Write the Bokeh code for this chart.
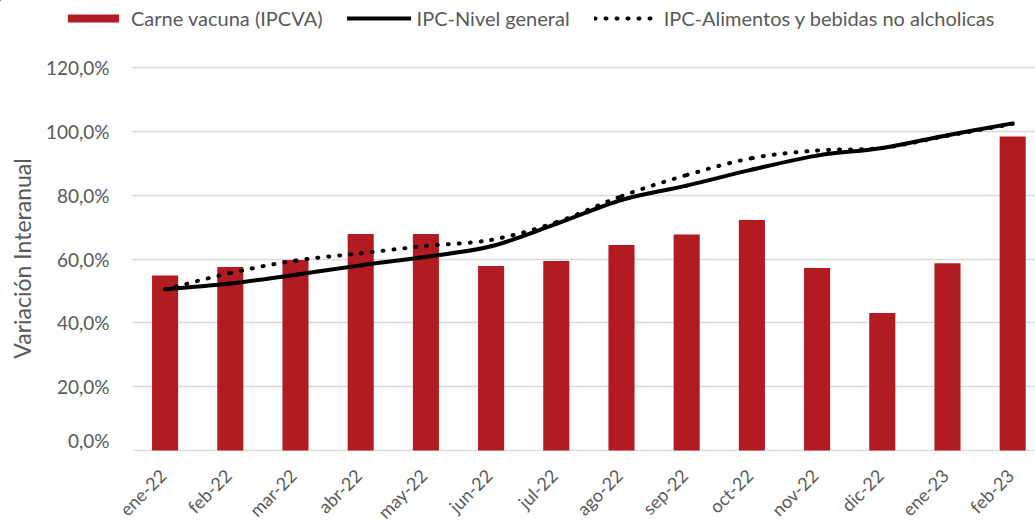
import math
from bokeh.plotting import figure
from bokeh.layouts import column
from bokeh.core.properties import value
from bokeh.models import Range1d, FixedTicker, Legend, LegendItem, ColumnDataSource
from bokeh.embed import file_html
from bokeh.resources import INLINE

months = ["ene-22", "feb-22", "mar-22", "abr-22", "may-22", "jun-22", "jul-22",
          "ago-22", "sep-22", "oct-22", "nov-22", "dic-22", "ene-23", "feb-23"]
carne = [54.8, 57.5, 59.7, 67.8, 67.8, 57.8, 59.4, 64.4, 67.7, 72.2, 57.2, 43.1, 58.7, 98.4]
ipc_general = [50.5, 52.3, 55.1, 58.0, 60.7, 64.0, 71.0, 78.5, 83.0, 88.0, 92.4, 94.8, 98.8, 102.5]
ipc_alimentos = [50.5, 55.6, 59.5, 61.8, 64.1, 66.0, 71.5, 79.7, 86.3, 91.6, 94.0, 94.8, 98.6, 102.3]
y_ticks = [0, 20, 40, 60, 80, 100, 120]
y_tick_labels = ["0,0%", "20,0%", "40,0%", "60,0%", "80,0%", "100,0%", "120,0%"]
series_names = ["Carne vacuna (IPCVA)", "IPC-Nivel general", "IPC-Alimentos y bebidas no alcholicas"]

FONT = "Lato"
GREY = "#595959"
RED = "#B31B23"
GRID = "#d9d9d9"

W = 1035
LEG_H = 40          # legend strip
STRIP_H = 72        # category-label strip
MAIN_H = 523 - LEG_H - STRIP_H
LEFT = 132          # plot-area left edge
X_START, X_END = -0.5, 13.35

x = list(range(len(months)))
src = ColumnDataSource(dict(x=x, carne=carne, gen=ipc_general, ali=ipc_alimentos, months=months))


def smooth_source(ys):
    """Bezier segments through the data points (Catmull-Rom style, like Excel smoothed lines)."""
    n = len(ys)
    d = dict(x0=[], y0=[], x1=[], y1=[], cx0=[], cy0=[], cx1=[], cy1=[])
    for i in range(n - 1):
        xp, yp = (x[i - 1], ys[i - 1]) if i > 0 else (x[i], ys[i])
        xn, yn = (x[i + 2], ys[i + 2]) if i + 2 < n else (x[i + 1], ys[i + 1])
        d["x0"].append(x[i]); d["y0"].append(ys[i])
        d["x1"].append(x[i + 1]); d["y1"].append(ys[i + 1])
        d["cx0"].append(x[i] + (x[i + 1] - xp) / 6.0)
        d["cy0"].append(ys[i] + (ys[i + 1] - yp) / 6.0)
        d["cx1"].append(x[i + 1] - (xn - x[i]) / 6.0)
        d["cy1"].append(ys[i + 1] - (yn - ys[i]) / 6.0)
    return ColumnDataSource(d)


ali_style = dict(line_color="black", line_width=4, line_dash="1 10", line_cap="round")
gen_style = dict(line_color="black", line_width=4, line_cap="round")

# ---------- legend strip (series drawn out of view; only their legend swatches show) ----------
pl = figure(width=W, height=LEG_H, output_backend="svg", toolbar_location=None,
            x_range=Range1d(100, 101), y_range=Range1d(-1000, -999),
            x_axis_location=None, y_axis_location=None,
            min_border_left=0, min_border_right=0, min_border_top=0, min_border_bottom=0)
pl.frame_align = False
pl.outline_line_color = None
pl.xgrid.visible = False
pl.ygrid.visible = False
leg_bar = pl.vbar(x="x", top="carne", width=0.4, source=src, fill_color=RED, line_color=None)
leg_gen = pl.line(x="x", y="gen", source=src, **gen_style)
leg_ali = pl.line(x="x", y="ali", source=src, **ali_style)
legend = Legend(items=[
    LegendItem(label=series_names[0], renderers=[leg_bar]),
    LegendItem(label=series_names[1], renderers=[leg_gen]),
    LegendItem(label=series_names[2], renderers=[leg_ali]),
], orientation="horizontal", location=(61, 10))
legend.glyph_width = 64
legend.glyph_height = 10
legend.label_standoff = 6
legend.spacing = 24
legend.padding = 4
legend.margin = 0
legend.border_line_color = None
legend.background_fill_alpha = 0
legend.label_text_font = FONT
legend.label_text_font_size = "20px"
legend.label_text_color = GREY
pl.add_layout(legend)

# ---------- main chart ----------
p = figure(width=W, height=MAIN_H, output_backend="svg", toolbar_location=None,
           x_range=Range1d(X_START, X_END), y_range=Range1d(-0.31, 120.63),
           x_axis_location=None,
           min_border_left=LEFT, min_border_right=0, min_border_top=65 - LEG_H, min_border_bottom=0)
p.frame_align = False
p.outline_line_color = None
p.background_fill_color = "white"

p.vbar(x="x", top="carne", width=0.4, source=src, fill_color=RED, line_color=None)
p.bezier(x0="x0", y0="y0", x1="x1", y1="y1", cx0="cx0", cy0="cy0", cx1="cx1", cy1="cy1",
         source=smooth_source(ipc_alimentos), **ali_style)
p.bezier(x0="x0", y0="y0", x1="x1", y1="y1", cx0="cx0", cy0="cy0", cx1="cx1", cy1="cy1",
         source=smooth_source(ipc_general), **gen_style)
p.xgrid.grid_line_color = None

p.yaxis.ticker = FixedTicker(ticks=y_ticks)
p.yaxis.major_label_overrides = {t: l for t, l in zip(y_ticks, y_tick_labels)}
p.yaxis.axis_line_color = None
p.yaxis.major_tick_line_color = None
p.yaxis.minor_tick_line_color = None
p.yaxis.major_label_text_font = FONT
p.yaxis.major_label_text_font_size = "19px"
p.yaxis.major_label_text_color = GREY
p.yaxis.major_label_standoff = 17
p.yaxis.axis_label = "Variación Interanual"
p.yaxis.axis_label_text_font = FONT
p.yaxis.axis_label_text_font_size = "23px"
p.yaxis.axis_label_text_font_style = "normal"
p.yaxis.axis_label_text_color = GREY
p.yaxis.axis_label_standoff = 7
p.ygrid.grid_line_color = GRID
p.ygrid.grid_line_width = 1.5

# ---------- category-label strip, same horizontal scale as the plot area ----------
px_per_unit = (W - LEFT) / (X_END - X_START)
ps = figure(width=W, height=STRIP_H, output_backend="svg", toolbar_location=None,
            x_range=Range1d(X_START - LEFT / px_per_unit, X_END), y_range=Range1d(0, 1),
            x_axis_location=None, y_axis_location=None,
            min_border_left=0, min_border_right=0, min_border_top=0, min_border_bottom=0)
ps.frame_align = False
ps.outline_line_color = None
ps.xgrid.visible = False
ps.ygrid.visible = False
ps.text(x="x", y=1, text="months", source=src, angle=math.pi / 4,
        x_offset=-10, y_offset=13, text_align="right", text_baseline="top",
        text_font_size="18px", text_color=GREY, text_font=value(FONT))

layout = column(pl, p, ps, spacing=0)
open("out.html", "w").write(file_html(layout, INLINE))
